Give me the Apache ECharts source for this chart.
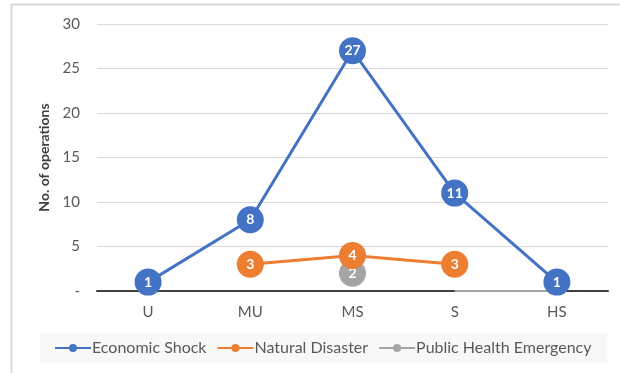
<!DOCTYPE html>
<html>
<head>
<meta charset="utf-8">
<script src="https://cdn.jsdelivr.net/npm/echarts@6/dist/echarts.min.js"></script>
<style>
  html, body { margin: 0; padding: 0; background: #fff; }
  #chart { width: 620px; height: 373px; }
</style>
</head>
<body>
<div id="chart"></div>
<script>
// Operations per category, by type of event
const categories = ['U', 'MU', 'MS', 'S', 'HS'];
const economicShock = [1, 8, 27, 11, 1];
const naturalDisaster = [null, 3, 4, 3, null];
const publicHealthPeak = [null, null, 2, null, null];
const publicHealthFlat = [null, null, null, 0, 0];

const BLUE = '#4472C4';
const ORANGE = '#ED7D31';
const GRAY = '#A5A5A5';
const FONT = 'Lato, "Open Sans", "Liberation Sans", sans-serif';

const chart = echarts.init(document.getElementById('chart'), null, { renderer: 'canvas' });

function markerLabel() {
  return {
    show: true,
    position: 'inside',
    color: '#fff',
    fontWeight: 'bold',
    fontSize: 14,
    fontFamily: FONT,
    formatter: p => (p.value == null ? '' : String(p.value))
  };
}

chart.setOption({
  animation: false,
  backgroundColor: '#fff',
  graphic: [{
    type: 'rect',
    shape: { x: 11.5, y: 4.5, width: 640, height: 400 },
    style: { fill: 'none', stroke: '#d9d9d9', lineWidth: 2 },
    silent: true, z: -10
  }],
  grid: { left: 97, right: 12, top: 24, bottom: 82 },
  legend: {
    top: 333,
    left: 40,
    itemWidth: 36,
    itemHeight: 10,
    itemGap: 10,
    padding: [7, 16, 7, 14],
    backgroundColor: '#f8f8f8',
    textStyle: { color: '#595959', fontSize: 16, fontFamily: FONT, padding: [0, 0, 0, -4] },
    data: ['Economic Shock', 'Natural Disaster', 'Public Health Emergency']
  },
  xAxis: {
    type: 'category',
    data: categories,
    boundaryGap: true,
    axisLine: { show: true, lineStyle: { color: '#404040', width: 2 } },
    axisTick: { show: false },
    axisLabel: { color: '#595959', fontSize: 15, margin: 14, fontFamily: FONT }
  },
  yAxis: {
    type: 'value',
    min: 0,
    max: 30,
    interval: 5,
    name: 'No. of operations',
    nameLocation: 'middle',
    nameRotate: 90,
    nameGap: 45,
    nameTextStyle: { color: '#404040', fontSize: 14, fontWeight: 'bold', fontFamily: FONT },
    axisLine: { show: false },
    axisTick: { show: false },
    splitLine: { lineStyle: { color: '#d9d9d9', width: 1 } },
    axisLabel: {
      color: '#595959', fontSize: 15, margin: 17,
      fontFamily: FONT,
      formatter: v => (v === 0 ? '-' : String(v))
    }
  },
  series: [
    {
      name: 'Economic Shock', type: 'line', data: economicShock,
      symbol: 'circle', symbolSize: 27,
      lineStyle: { color: BLUE, width: 3 },
      itemStyle: { color: BLUE },
      label: markerLabel(), z: 4
    },
    {
      name: 'Natural Disaster', type: 'line', data: naturalDisaster,
      symbol: 'circle', symbolSize: 27,
      lineStyle: { color: ORANGE, width: 3 },
      itemStyle: { color: ORANGE },
      label: markerLabel(), z: 3
    },
    {
      name: 'Public Health Emergency', type: 'line', data: publicHealthPeak,
      symbol: 'circle', symbolSize: 27,
      lineStyle: { color: GRAY, width: 3 },
      itemStyle: { color: GRAY },
      label: markerLabel(), z: 2
    },
    {
      name: 'Public Health Emergency', type: 'line', data: publicHealthFlat,
      symbol: 'none', showSymbol: false,
      lineStyle: { color: GRAY, width: 2 },
      itemStyle: { color: GRAY },
      label: { show: false }, z: 2
    }
  ]
});
</script>
</body>
</html>
